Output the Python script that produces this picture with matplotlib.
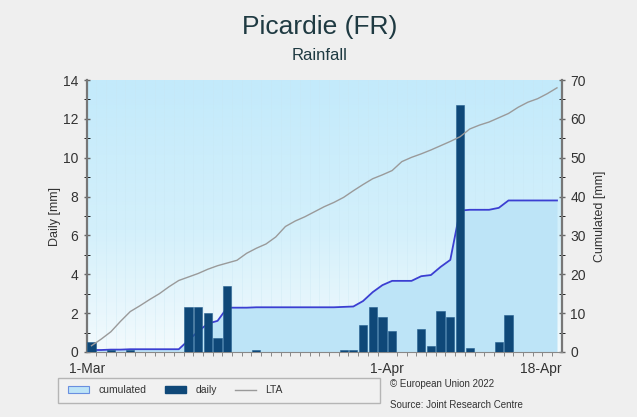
import numpy as np
import matplotlib
matplotlib.use("Agg")
import matplotlib.pyplot as plt
from matplotlib.patches import Patch, Rectangle
from matplotlib.lines import Line2D
from matplotlib.colors import LinearSegmentedColormap

plt.rcParams['font.family'] = ['Liberation Sans', 'DejaVu Sans']

# days from 1-Mar (index 0) to 18-Apr (index 48)
days = np.arange(49)
daily = [0.5, 0, 0.1, 0, 0.1, 0, 0, 0, 0, 0,
         2.3, 2.3, 2.0, 0.7, 3.4, 0, 0, 0.1, 0, 0,
         0, 0, 0, 0, 0, 0, 0.1, 0.1, 1.4, 2.3,
         1.8, 1.1, 0, 0, 1.2, 0.3, 2.1, 1.8, 12.7, 0.2,
         0, 0, 0.5, 1.9, 0, 0, 0, 0, 0]
lta = [1.6, 3.3, 5.2, 7.9, 10.4, 11.9, 13.5, 15.0, 16.8, 18.4,
       19.3, 20.2, 21.3, 22.2, 22.9, 23.6, 25.4, 26.7, 27.8, 29.6,
       32.3, 33.7, 34.8, 36.1, 37.4, 38.5, 39.8, 41.5, 43.1, 44.6,
       45.6, 46.7, 49.0, 50.1, 51.0, 52.0, 53.1, 54.2, 55.4, 57.4,
       58.4, 59.2, 60.3, 61.4, 63.0, 64.3, 65.2, 66.5, 68.0]
cumulated = np.cumsum(daily)
tick_pos = [-0.5, 30.5, 48.5]
tick_lab = ['1-Mar', '1-Apr', '18-Apr']

bar_col = '#0f4878'
cum_line = '#3b3fd2'
cum_fill = '#bde4f7'
lta_col = '#9a9a9a'
txt = '#333333'

fig = plt.figure(figsize=(6.37, 4.17), dpi=100, facecolor='#efefef')
ax = fig.add_axes([0.136, 0.156, 0.746, 0.652])
ax2 = ax.twinx()
ax.set_zorder(ax2.get_zorder() + 1)
ax.patch.set_visible(False)

# background gradient
cmap = LinearSegmentedColormap.from_list('bg', [(0, '#f3fafd'), (0.45, '#d3f0fb'), (1, '#c3eafb')])
grad = np.linspace(0, 1, 256).reshape(-1, 1)
ax2.imshow(grad, cmap=cmap, aspect='auto', origin='lower', extent=[0, 1, 0, 1],
           transform=ax2.transAxes, zorder=0)

for d in np.arange(-0.5, 49, 1):
    ax2.axvline(d, color='#c8e6f2', alpha=0.45, lw=0.5, zorder=0.5)

ax2.fill_between(days, 0, cumulated, color=cum_fill, zorder=1, lw=0)
ax2.plot(days, cumulated, color=cum_line, lw=1.3, zorder=2)

ax.bar(days, daily, width=0.85, color=bar_col, edgecolor='#245f8e', lw=0.4, zorder=3)
ax.plot(days, lta, color=lta_col, lw=1.0, transform=ax2.transData, zorder=4)

ax.set_xlim(-0.5, 48.5)
ax.set_ylim(0, 14)
ax2.set_ylim(0, 70)

ax.set_yticks(np.arange(0, 15, 2))
ax.set_yticks(np.arange(0, 15, 1), minor=True)
ax2.set_yticks(np.arange(0, 71, 10))
ax2.set_yticks(np.arange(0, 71, 5), minor=True)
ax.set_xticks(tick_pos)
ax.set_xticklabels(tick_lab)
ax.set_xticks(np.arange(-0.5, 49, 1), minor=True)
ax.get_xticklabels()[-1].set_ha('right')

for a in (ax, ax2):
    for s in a.spines.values():
        s.set_visible(False)
    a.tick_params(colors='#666666', labelcolor=txt, labelsize=10, width=1.0)
ax.spines['left'].set_visible(True)
ax.spines['left'].set_color('#777777')
ax.spines['left'].set_linewidth(1.6)
ax.spines['bottom'].set_visible(True)
ax.spines['bottom'].set_color('#888888')
ax2.spines['right'].set_visible(True)
ax2.spines['right'].set_color('#777777')
ax2.spines['right'].set_linewidth(1.6)

ax.tick_params(axis='y', which='both', direction='inout', length=4, pad=4)
ax2.tick_params(axis='y', which='both', direction='inout', length=4, pad=4)
ax.tick_params(axis='x', which='major', length=0, pad=7)
ax.tick_params(axis='x', which='minor', length=3, color='#777777')

ax.set_ylabel('Daily [mm]', fontsize=9, color=txt, labelpad=1)
ax2.set_ylabel('Cumulated [mm]', fontsize=9, color=txt, labelpad=6)

fig.text(0.502, 0.935, 'Picardie (FR)', ha='center', va='center', fontsize=19, color='#1f3a42')
fig.text(0.502, 0.866, 'Rainfall', ha='center', va='center', fontsize=12, color='#1f3a42')

fig.patches.append(Rectangle((0.091, 0.034), 0.505, 0.060, transform=fig.transFigure,
                             facecolor='#f1f1f1', edgecolor='#b5b5b5', lw=1.0))
handles = [Patch(facecolor=cum_fill, edgecolor='#6a8fe0', lw=0.8),
           Patch(facecolor=bar_col, edgecolor=bar_col),
           Line2D([0], [0], color=lta_col, lw=1.0)]
fig.legend(handles, ['cumulated', 'daily', 'LTA'], loc='center left',
           bbox_to_anchor=(0.092, 0.064), ncol=3, frameon=False, fontsize=7.5,
           handlelength=2.0, handleheight=0.6, columnspacing=1.8, handletextpad=0.9,
           labelcolor=txt)

fig.text(0.612, 0.079, '\u00a9 European Union 2022', fontsize=7, color=txt, va='center')
fig.text(0.612, 0.028, 'Source: Joint Research Centre', fontsize=7, color=txt, va='center')

fig.savefig('out.png', dpi=100, facecolor=fig.get_facecolor())
